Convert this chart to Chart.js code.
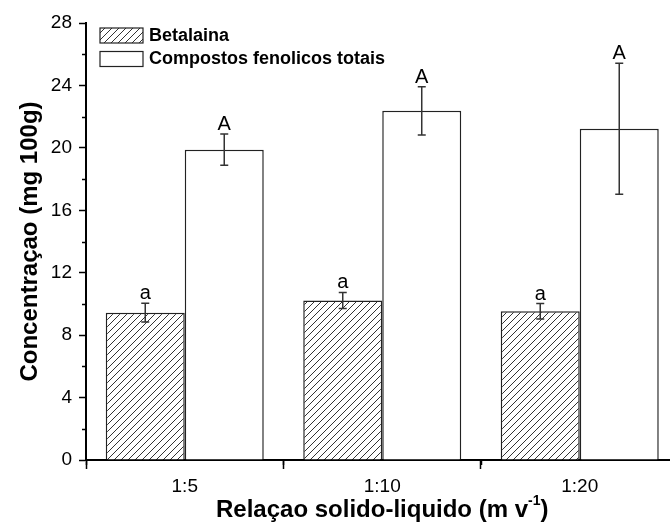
<!DOCTYPE html>
<html><head><meta charset="utf-8">
<script src="https://cdn.jsdelivr.net/npm/chart.js@4/dist/chart.umd.min.js"></script>
<style>html,body{margin:0;padding:0;background:#fff}</style>
</head><body>
<canvas id="c" width="670" height="528"></canvas>
<script>
const categories = ['1:5', '1:10', '1:20'];
const seriesNames = ['Betalaina', 'Compostos fenolicos totais'];
const betalaina = [9.44, 10.22, 9.53];
const betalainaErr = [0.60, 0.52, 0.49];
const fenolicos = [19.88, 22.37, 21.22];
const fenolicosErr = [1.00, 1.55, 4.20];
const betalainaLetters = ['a', 'a', 'a'];
const fenolicosLetters = ['A', 'A', 'A'];
const yTicks = [0, 4, 8, 12, 16, 20, 24, 28];
const yMinorTicks = [2, 6, 10, 14, 18, 22, 26];
const xTicks = [1, 2, 3];
const xMinorTicks = [0.5, 1.5, 2.5, 3.5];
const yTitle = 'Concentraçao (mg 100g)';
const xTitle = 'Relaçao solido-liquido (m v';
const xTitleSup = '-1';

const FONT = "'Liberation Sans', Arial, sans-serif";
const ctx = document.getElementById('c').getContext('2d');

function makeHatch() {
  const c = document.createElement('canvas');
  c.width = 7; c.height = 7;
  const g = c.getContext('2d');
  g.fillStyle = '#fff'; g.fillRect(0, 0, 7, 7);
  g.strokeStyle = '#333'; g.lineWidth = 1;
  g.beginPath(); g.moveTo(-1, 8); g.lineTo(8, -1); g.stroke();
  return ctx.createPattern(c, 'repeat');
}
const hatch = makeHatch();

const errs = [betalainaErr, fenolicosErr];
const letters = [betalainaLetters, fenolicosLetters];

const extras = {
  id: 'extras',
  afterDatasetsDraw(chart) {
    const c = chart.ctx, ys = chart.scales.y, xs = chart.scales.x, a = chart.chartArea;
    c.save();
    chart.data.datasets.forEach((ds, di) => {
      const meta = chart.getDatasetMeta(di);
      meta.data.forEach((bar, i) => {
        const v = ds.data[i].y, e = errs[di][i];
        const top = ys.getPixelForValue(v + e), bot = ys.getPixelForValue(v - e);
        c.strokeStyle = '#333'; c.lineWidth = 1.5;
        c.beginPath();
        c.moveTo(bar.x, top); c.lineTo(bar.x, bot);
        c.moveTo(bar.x - 4, top); c.lineTo(bar.x + 4, top);
        c.moveTo(bar.x - 4, bot); c.lineTo(bar.x + 4, bot);
        c.stroke();
        c.fillStyle = '#000'; c.font = '20px ' + FONT;
        c.textAlign = 'center'; c.textBaseline = 'alphabetic';
        c.fillText(letters[di][i], bar.x, top - 4);
      });
    });
    c.strokeStyle = '#000'; c.lineWidth = 1.5;
    c.beginPath();
    yMinorTicks.forEach(v => { const p = Math.round(ys.getPixelForValue(v)) + 0.5; c.moveTo(a.left - 4, p); c.lineTo(a.left, p); });
    xMinorTicks.forEach(v => { const p = Math.round(xs.getPixelForValue(v)) + 0.5; c.moveTo(p, a.bottom); c.lineTo(p, a.bottom + 5); });
    c.stroke();
    const lx = a.left + 14, ly = a.top + 5;
    const fills = [hatch, '#fff'];
    seriesNames.forEach((n, i) => {
      const y0 = ly + i * 23.5;
      c.fillStyle = fills[i]; c.fillRect(lx, y0, 43, 15);
      c.strokeStyle = '#222'; c.lineWidth = 1.2; c.strokeRect(lx, y0, 43, 15);
      c.fillStyle = '#000'; c.font = 'bold 18px ' + FONT;
      c.textAlign = 'left'; c.textBaseline = 'middle';
      c.fillText(n, lx + 49, y0 + 8);
    });
    const TF = 'bold 24px ' + FONT;
    c.fillStyle = '#000';
    c.font = TF;
    c.textBaseline = 'middle';
    const supFont = 'bold 14px ' + FONT;
    const w1 = c.measureText(xTitle).width;
    c.font = supFont; const w2 = c.measureText(xTitleSup).width;
    c.font = TF; const w3 = c.measureText(')').width;
    const cx = xs.getPixelForValue(2);
    let x0 = cx - (w1 + w2 + w3) / 2;
    const ty = 510;
    c.textAlign = 'left';
    c.fillText(xTitle, x0, ty);
    c.font = supFont; c.fillText(xTitleSup, x0 + w1, ty - 9);
    c.font = TF; c.fillText(')', x0 + w1 + w2, ty);
    c.save();
    c.translate(30, (a.top + a.bottom) / 2);
    c.rotate(-Math.PI / 2);
    c.textAlign = 'center';
    c.fillText(yTitle, 0, 0);
    c.restore();
    c.restore();
  }
};

new Chart(ctx, {
  type: 'bar',
  data: {
    datasets: [
      { label: seriesNames[0], data: xTicks.map((x, i) => ({ x, y: betalaina[i] })),
        backgroundColor: hatch, borderColor: '#222', borderWidth: 1.5,
        categoryPercentage: 0.8, barPercentage: 1.0 },
      { label: seriesNames[1], data: xTicks.map((x, i) => ({ x, y: fenolicos[i] })),
        backgroundColor: '#fff', borderColor: '#222', borderWidth: 1.5,
        categoryPercentage: 0.8, barPercentage: 1.0 }
    ]
  },
  options: {
    responsive: false, animation: false, devicePixelRatio: 1,
    layout: { padding: { top: 23, right: 0, bottom: 0, left: 0 } },
    plugins: { legend: { display: false }, tooltip: { enabled: false } },
    scales: {
      x: {
        type: 'linear', min: 0.5, max: 3.457, offset: false,
        afterBuildTicks: s => { s.ticks = xTicks.map(v => ({ value: v })); },
        afterFit: s => { s.height = 68; },
        ticks: { callback: v => categories[v - 1] ?? '', font: { family: FONT, size: 19 }, color: '#000', padding: 6, maxRotation: 0, autoSkip: false },
        grid: { drawOnChartArea: false, drawTicks: true, tickLength: 9, tickColor: '#000', tickWidth: 1.5 },
        border: { color: '#000', width: 2 }
      },
      y: {
        min: 0, max: 28,
        afterBuildTicks: s => { s.ticks = yTicks.map(v => ({ value: v })); },
        afterFit: s => { s.width = 86; },
        ticks: { font: { family: FONT, size: 19 }, color: '#000', padding: 7 },
        grid: { drawOnChartArea: false, drawTicks: true, tickLength: 7, tickColor: '#000', tickWidth: 1.5 },
        border: { color: '#000', width: 2 }
      }
    }
  },
  plugins: [extras]
});
</script>
</body></html>
